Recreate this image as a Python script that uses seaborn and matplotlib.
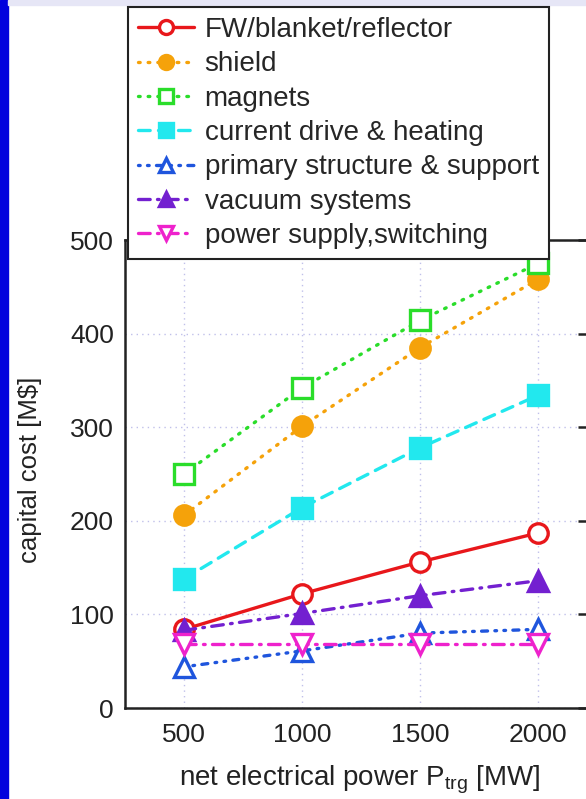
import matplotlib
matplotlib.use("Agg")
import matplotlib.pyplot as plt
from matplotlib.patches import Rectangle
import seaborn as sns
import pandas as pd

power = [500, 1000, 1500, 2000]
fw_blanket = [84, 122, 156, 187]
shield = [206, 301, 385, 458]
magnets = [250, 342, 414, 475]
cd_heating = [138, 214, 278, 334]
primary_struct = [44, 61, 80, 84]
vacuum = [83, 101, 120, 136]
power_supply = [68, 68, 68, 68]

labels = ["FW/blanket/reflector", "shield", "magnets", "current drive & heating",
          "primary structure & support", "vacuum systems", "power supply,switching"]
series = [fw_blanket, shield, magnets, cd_heating, primary_struct, vacuum, power_supply]
colors = ["#e8171b", "#f5a20a", "#2add2a", "#22e8ee", "#1f55dd", "#7320d0", "#ee22cc"]
styles = ["-", (0, (0.5, 2.4)), (0, (0.5, 2.4)), (0, (3.5, 2.5)),
          (0, (0.5, 2.2, 0.5, 2.2, 1.8, 2.2)),
          (0, (3.5, 2.2, 0.5, 2.2)), (0, (3.5, 2.2, 0.5, 2.2))]
markers = ["o", "o", "s", "s", "^", "^", "v"]
filled = [False, True, False, True, False, True, False]

sns.set_theme(style="white")
plt.rcParams["font.family"] = ["Liberation Sans", "DejaVu Sans"]

fig = plt.figure(figsize=(5.86, 7.99), dpi=100)
fig.patch.set_facecolor("white")
fig.add_artist(Rectangle((0, 0), 8 / 586, 1, transform=fig.transFigure, color="#0202dd", zorder=0))
fig.add_artist(Rectangle((8 / 586, 1 - 5 / 799), 1, 5 / 799, transform=fig.transFigure, color="#e6e6f6", zorder=0))

ax = fig.add_axes([125 / 586, 91 / 799, 472 / 586, 468 / 799])

for lab, vals, c, ls, m, f in zip(labels, series, colors, styles, markers, filled):
    df = pd.DataFrame({"x": power, "y": vals})
    sns.lineplot(data=df, x="x", y="y", ax=ax, color=c, linestyle=ls, linewidth=2.4,
                 marker=m, markersize=14, markerfacecolor=(c if f else "white"),
                 markeredgecolor=c, markeredgewidth=2.4, label=lab,
                 dash_capstyle="round", solid_capstyle="round", legend=False)

ax.set_xlim(250, 2250)
ax.set_ylim(0, 500)
ax.set_xticks(power)
ax.set_yticks([0, 100, 200, 300, 400, 500])
ax.grid(True, color="#c0c0ea", linestyle=(0, (1, 3)), linewidth=1.0)
ax.tick_params(direction="in", length=14, width=1.8, colors="#222222", labelsize=19,
               top=True, right=True, labelcolor="#222222")
ax.tick_params(axis="x", pad=11)
ax.tick_params(axis="y", pad=8)
for s in ax.spines.values():
    s.set_color("#222222")
    s.set_linewidth(1.8)

ax.set_xlabel("net electrical power P$_\\mathregular{trg}$ [MW]", fontsize=20, color="#222222")
ax.set_ylabel("capital cost [M$]", fontsize=18.5, color="#222222")
ax.xaxis.set_label_coords(0.498, -0.118)
ax.yaxis.set_label_coords(-0.175, 0.5085)

leg = ax.legend(loc="upper left", bbox_to_anchor=(128 / 586, 1 - 7 / 799),
                bbox_transform=fig.transFigure, fontsize=20, frameon=True, fancybox=False,
                framealpha=1, edgecolor="#222222", handlelength=2.0, handletextpad=0.4,
                labelspacing=0.3, borderpad=0.36, markerscale=0.72, borderaxespad=0)
leg.get_frame().set_linewidth(1.5)
leg.set_zorder(10)

fig.savefig("out.png", dpi=100)
